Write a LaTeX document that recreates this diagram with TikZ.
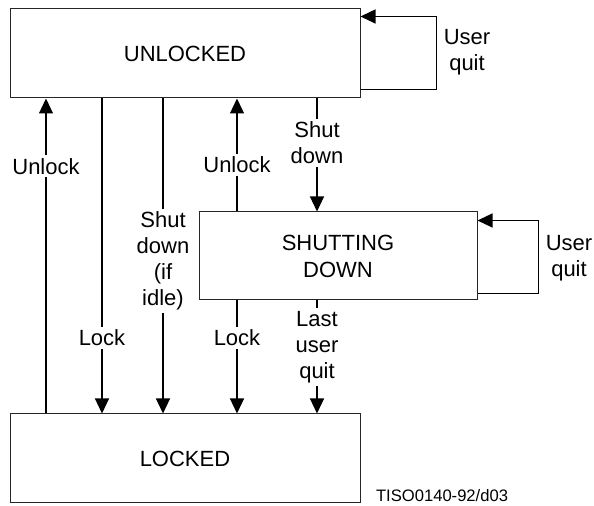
\documentclass[tikz,border=0pt]{standalone}
\usepackage{fontspec}
\setmainfont{Liberation Sans}
\usetikzlibrary{arrows.meta}
\tikzset{
  state/.style={draw=black!85, line width=0.5pt,
                minimum width=175pt, minimum height=44.5pt,
                inner sep=0pt, align=center,
                font=\fontsize{11}{13.5}\selectfont},
  flow/.style={-{Triangle[length=7.5pt,width=7pt]}, line width=0.6pt},
  lab/.style={fill=white, inner sep=1.5pt, align=center,
              font=\fontsize{11}{13}\selectfont},
  note/.style={font=\fontsize{8.3}{10}\selectfont},
}

\begin{document}
\begin{tikzpicture}[x=0.5pt,y=-0.5pt]
  \path[use as bounding box] (0,0) rectangle (594,506);

  % states
  \node[state] (unlocked) at (185,53.5) {UNLOCKED};
  \node[state, minimum width=139pt, minimum height=44pt] (shutting)
    at (338,256) {SHUTTING\\DOWN};
  \node[state] (locked) at (185,458.5) {LOCKED};

  % self loops
  \draw[flow] ([yshift=4.5pt]unlocked.south east) -- ++(76,0)
    |- ([yshift=-4pt]unlocked.north east);
  \node[lab] (uquit) at (467,52.5) {User\\quit};
  \draw[flow] ([yshift=3.5pt]shutting.south east) -- ++(61,0)
    |- ([yshift=-4.5pt]shutting.north east);
  \node[lab] (squit) at (569,258) {User\\quit};

  % transitions
  \draw[flow] (locked.north -| 46,0) --
    node[lab, pos=0.785] {Unlock} (unlocked.south -| 46,0);
  \draw[flow] (unlocked.south -| 102,0) --
    node[lab, pos=0.759] {Lock} (locked.north -| 102,0);
  \draw[flow] (unlocked.south -| 163,0) --
    node[lab, pos=0.516] {Shut\\down\\(if\\idle)} (locked.north -| 163,0);
  \draw[flow] (shutting.north -| 237,0) --
    node[lab, pos=0.412] {Unlock} (unlocked.south -| 237,0);
  \draw[flow] (unlocked.south -| 317,0) --
    node[lab, pos=0.395] {Shut\\down} (shutting.north -| 317,0);
  \draw[flow] (shutting.south -| 237,0) --
    node[lab, pos=0.333] {Lock} (locked.north -| 237,0);
  \draw[flow] (shutting.south -| 317,0) --
    node[lab, pos=0.412] {Last\\user\\quit} (locked.north -| 317,0);

  \node[note, anchor=base west] (tag) at (369,502) {TISO0140-92/d03};
\end{tikzpicture}
\end{document}
